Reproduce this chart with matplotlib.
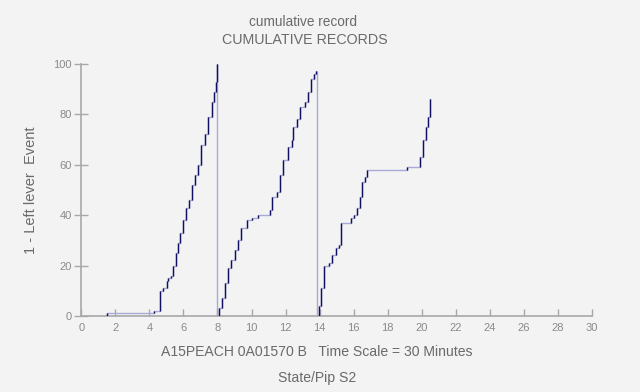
import matplotlib.pyplot as plt
import numpy as np

# DATA (time in scale units, cumulative count), one list per record segment

seg1_time = [1.47, 1.50, 4.27, 4.61, 4.80, 5.04, 5.10, 5.29, 5.39, 5.59, 5.69,
             5.82, 5.98, 6.18, 6.33, 6.53, 6.67, 6.86, 7.06, 7.25, 7.45, 7.65,
             7.78, 7.90, 8.00]
seg1_count = [0, 1, 2, 10, 11, 14, 15, 16, 20, 25, 29, 33, 38, 43, 46, 52, 56,
              60, 68, 72, 79, 85, 89, 93, 100]

seg2_time = [8.00, 8.10, 8.24, 8.43, 8.63, 8.82, 9.02, 9.22, 9.41, 9.71, 10.00,
             10.39, 11.08, 11.18, 11.47, 11.67, 11.86, 12.16, 12.35, 12.45,
             12.65, 12.84, 13.14, 13.33, 13.47, 13.67, 13.78]
seg2_count = [0, 3, 7, 13, 19, 22, 26, 30, 35, 38, 39, 40, 42, 47, 49, 56, 62,
              67, 70, 75, 78, 83, 85, 89, 94, 96, 97]

seg3_time = [13.85, 13.96, 14.10, 14.25, 14.55, 14.75, 14.94, 15.14, 15.27,
             15.82, 16.00, 16.20, 16.35, 16.49, 16.69, 16.78, 19.13, 19.80,
             19.90, 20.10, 20.25, 20.39, 20.49]
seg3_count = [0, 4, 11, 20, 21, 24, 27, 28, 37, 39, 40, 43, 47, 53, 55, 58, 59,
              59, 63, 70, 75, 79, 86]

reset_times = [8.00, 13.85]
reset_heights = [100, 97]

x_ticks = list(range(0, 31, 2))
y_ticks = list(range(0, 101, 20))

TITLE_1 = "cumulative record"
TITLE_2 = "CUMULATIVE RECORDS"
FOOTER_1 = "A15PEACH 0A01570 B   Time Scale = 30 Minutes"
FOOTER_2 = "State/Pip S2"
Y_LABEL = "1 - Left lever  Event"

# STYLE

BG = "#f3f3f3"
STEP_COLOR = "#a9a9d8"
RESP_COLOR = "#101060"
AXIS_COLOR = "#a8a8a8"
TEXT_COLOR = "#6a6a6a"

plt.rcParams["font.family"] = ["Liberation Sans", "DejaVu Sans"]


def main() -> None:
    fig = plt.figure(figsize=(6.4, 3.92), dpi=100, facecolor=BG)
    ax = fig.add_axes([0.127, 0.194, 0.798, 0.643], facecolor=BG)

    for t, c in [(seg1_time, seg1_count), (seg2_time, seg2_count),
                 (seg3_time, seg3_count)]:
        t = np.asarray(t)
        c = np.asarray(c)
        ax.step(t, c, where="post", color=STEP_COLOR, linewidth=1.0, zorder=2)
        # response pen movements drawn darker
        ax.vlines(t[1:], c[:-1], c[1:], color=RESP_COLOR, linewidth=1.0,
                  zorder=3)

    ax.vlines(reset_times, 0, reset_heights, color=STEP_COLOR, linewidth=1.0,
              zorder=1)

    ax.set_xlim(0, 30)
    ax.set_ylim(0, 100)
    ax.set_xticks(x_ticks)
    ax.set_yticks(y_ticks)

    for side in ["top", "right"]:
        ax.spines[side].set_visible(False)
    for side in ["left", "bottom"]:
        ax.spines[side].set_color(AXIS_COLOR)
        ax.spines[side].set_linewidth(1.2)

    ax.tick_params(axis="x", direction="in", length=5, width=1,
                   color=AXIS_COLOR, labelcolor="#8a8a8a", labelsize=8, pad=5)
    ax.tick_params(axis="y", direction="inout", length=10, width=1,
                   color=AXIS_COLOR, labelcolor="#8a8a8a", labelsize=8, pad=2)

    fig.text(0.473, 0.944, TITLE_1, ha="center", va="center", fontsize=9.8,
             color=TEXT_COLOR)
    fig.text(0.476, 0.898, TITLE_2, ha="center", va="center", fontsize=10.3,
             color=TEXT_COLOR)
    fig.text(0.495, 0.102, FOOTER_1, ha="center", va="center", fontsize=10.1,
             color=TEXT_COLOR)
    fig.text(0.495, 0.035, FOOTER_2, ha="center", va="center", fontsize=10.1,
             color=TEXT_COLOR)
    fig.text(0.048, 0.515, Y_LABEL, ha="center", va="center", rotation=90,
             fontsize=10.5, color=TEXT_COLOR)

    fig.savefig("out.png", dpi=100, facecolor=BG)
    plt.close(fig)


if __name__ == "__main__":
    main()
